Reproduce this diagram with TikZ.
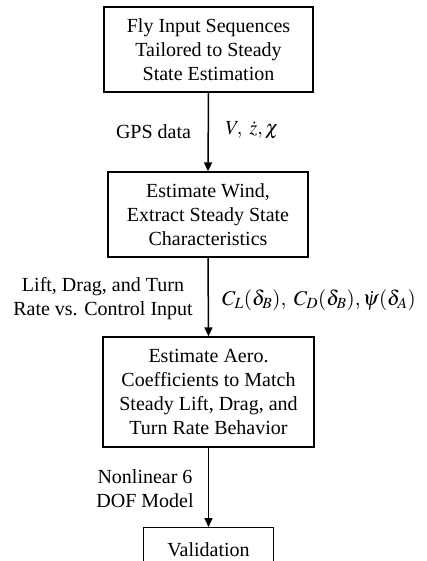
\documentclass[tikz,border=0pt]{standalone}
\usepackage{mathptmx}
\usepackage{fontspec}
\setmainfont{Liberation Serif}
\usetikzlibrary{arrows.meta}
\begin{document}
\begin{tikzpicture}[x=1pt,y=1pt,
  box/.style={draw,line width=1.3pt,align=center,inner sep=0pt,
    font=\fontsize{20}{24}\selectfont},
  lbl/.style={align=center,inner sep=0pt,font=\fontsize{20}{24}\selectfont},
  flow/.style={line width=1.5pt,-{Triangle[length=9pt,width=8pt]}}]
\useasboundingbox (0,0) rectangle (426,-561);
\begin{scope}
\clip (0,0) rectangle (426,-561);
\node[box,minimum width=209,minimum height=85] (b1) at (208.5,-49.5)
  {Fly Input Sequences\\Tailored to Steady\\State Estimation};
\node[box,minimum width=200,minimum height=85] (b2) at (208,-214.5)
  {Estimate Wind,\\Extract Steady State\\Characteristics};
\node[box,minimum width=211,minimum height=110] (b3) at (208.5,-392)
  {Estimate Aero.\\Coefficients to Match\\Steady Lift, Drag, and\\Turn Rate Behavior};
\node[box,minimum width=130,minimum height=44,anchor=north] (b4) at (208.5,-527)
  {Validation};
\draw[flow] (b1.south) -- (b2.north);
\draw[flow] (b2.south) -- (b3.north);
\draw[flow] (b3.south) -- (b4.north);
\end{scope}
\node[lbl] (l1) at (153.5,-132) {GPS data};
\node[lbl] (m1) at (252,-130) {$V,\ \dot{z},\chi$};
\node[lbl] (l2) at (103,-299) {Lift, Drag, and Turn\\Rate vs. Control Input};
\node[lbl,font=\fontsize{21}{24}\selectfont] (m2) at (319,-300) {$C_L(\delta_B),\ C_D(\delta_B),\dot{\psi}(\delta_A)$};
\node[lbl] (l3) at (145,-489) {Nonlinear 6\\DOF Model};
\end{tikzpicture}
\end{document}
